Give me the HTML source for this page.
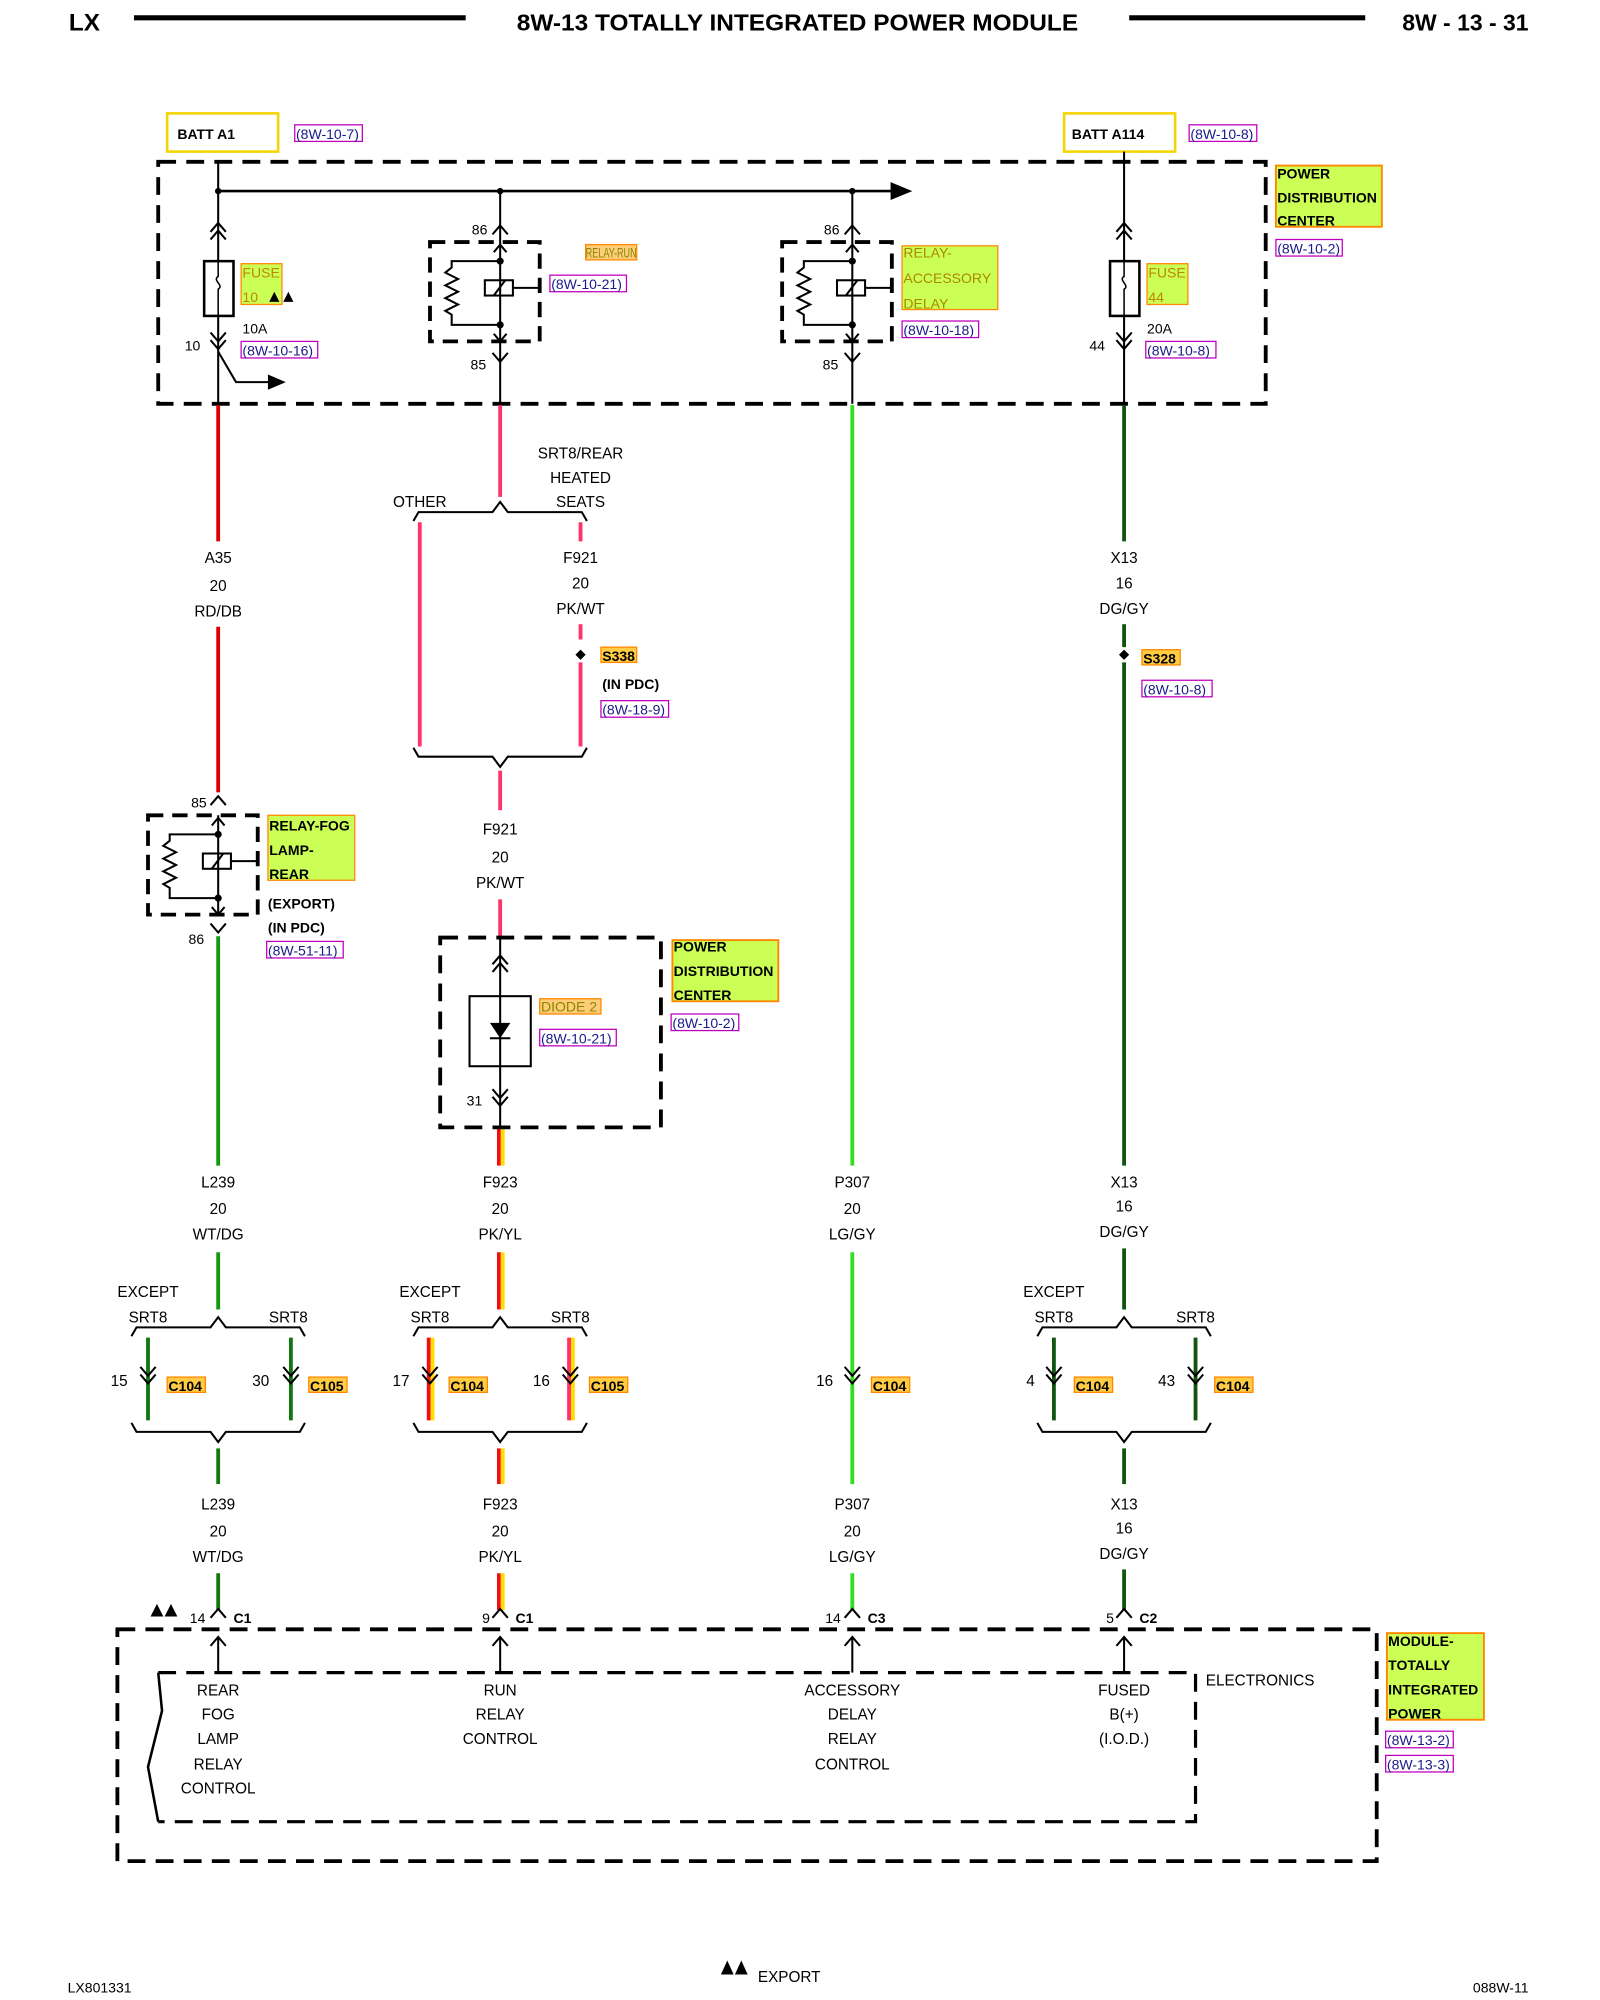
<!DOCTYPE html>
<html><head><meta charset="utf-8"><style>
html,body{margin:0;padding:0;background:#fff;}
svg{display:block;}
text{font-family:"Liberation Sans",Arial,sans-serif;font-size:12px;fill:#000;}
.b{font-weight:bold;}
.c{text-anchor:middle;}
.r{text-anchor:end;}
.ref{fill:#1a1a8c;font-size:11px;}
</style></head><body>
<svg width="1600" height="2000" viewBox="0 0 1254 1570" preserveAspectRatio="none" xmlns="http://www.w3.org/2000/svg">
<defs>
<g id="relay" fill="none" stroke="#000" stroke-width="1.6">
 <rect x="-55" y="0" width="86" height="78" stroke-width="3" stroke-dasharray="12,7"/>
 <line x1="0" y1="0" x2="0" y2="78"/>
 <path d="M-5,8 L0,2 L5,8 M-5,72 L0,78 L5,72"/>
 <path d="M0,15 H-38 V20 l-5,4 l10,5 l-10,5 l10,5 l-10,5 l10,5 l-10,5 l5,3 V65 H0"/>
 <rect x="-12" y="30" width="22" height="12"/>
 <line x1="-5" y1="42" x2="4" y2="30"/>
 <line x1="10" y1="36" x2="31" y2="36"/>
 <circle cx="0" cy="15" r="2" fill="#000"/><circle cx="0" cy="65" r="2" fill="#000"/>
</g>
<path id="up" d="M-6,7 L0,0 L6,7" fill="none" stroke="#000" stroke-width="1.6"/>
<path id="dn" d="M-6,-7 L0,0 L6,-7" fill="none" stroke="#000" stroke-width="1.6"/>
<path id="bt" d="M-68,9 L-64,2 H-6 L0,-6 L6,2 H64 L68,9" fill="none" stroke="#000" stroke-width="1.6"/>
<path id="bb" d="M-68,-9 L-64,-2 H-6 L0,6 L6,-2 H64 L68,-9" fill="none" stroke="#000" stroke-width="1.6"/>
</defs>

<!-- header -->
<text x="54" y="24" class="b" style="font-size:19px">LX</text>
<line x1="105" y1="14" x2="365" y2="14" stroke="#000" stroke-width="4"/>
<text x="625" y="24" class="b c" style="font-size:18px" textLength="440" lengthAdjust="spacingAndGlyphs">8W-13 TOTALLY INTEGRATED POWER MODULE</text>
<line x1="885" y1="14" x2="1070" y2="14" stroke="#000" stroke-width="4"/>
<text x="1198" y="24" class="b r" style="font-size:18px">8W - 13 - 31</text>

<!-- BATT boxes -->
<rect x="131" y="89" width="87" height="30" fill="#fff" stroke="#f5d400" stroke-width="2"/>
<text x="139" y="109" class="b" style="font-size:11px">BATT A1</text>
<rect x="231" y="98" width="53" height="13" fill="none" stroke="#c000c0"/>
<text x="232" y="109" class="ref">(8W-10-7)</text>
<rect x="834" y="89" width="87" height="30" fill="#fff" stroke="#f5d400" stroke-width="2"/>
<text x="840" y="109" class="b" style="font-size:11px">BATT A114</text>
<rect x="932" y="98" width="53" height="13" fill="none" stroke="#c000c0"/>
<text x="933" y="109" class="ref">(8W-10-8)</text>

<!-- PDC box -->
<rect x="124" y="127" width="868" height="190" fill="none" stroke="#000" stroke-width="3" stroke-dasharray="14,8"/>
<rect x="1000" y="130" width="83" height="48" fill="#ccff55" stroke="#ff8800" stroke-width="1.5"/>
<text x="1001" y="140" class="b" style="font-size:11px">POWER</text>
<text x="1001" y="159" class="b" style="font-size:11px">DISTRIBUTION</text>
<text x="1001" y="177" class="b" style="font-size:11px">CENTER</text>
<rect x="1000" y="188" width="52" height="13" fill="none" stroke="#c000c0"/>
<text x="1001" y="199" class="ref">(8W-10-2)</text>

<!-- bus -->
<line x1="171" y1="150" x2="702" y2="150" stroke="#000" stroke-width="2"/>
<path d="M698,143 L715,150 L698,157 Z" fill="#000"/>
<circle cx="171" cy="150" r="2.5"/><circle cx="392" cy="150" r="2.5"/><circle cx="668" cy="150" r="2.5"/>

<!-- fuse 10 -->
<line x1="171" y1="127" x2="171" y2="317" stroke="#000" stroke-width="1.6"/>
<use href="#up" x="171" y="175"/><use href="#up" x="171" y="181"/>
<rect x="160" y="205" width="23" height="43" fill="#fff" stroke="#000" stroke-width="2"/>
<path d="M171,205 v12 c-5,3 5,7 0,10 v21" fill="none" stroke="#000" stroke-width="1.2"/>
<rect x="189" y="207" width="32" height="32" fill="#ccff55" stroke="#ff8800"/>
<text x="190" y="218" style="font-size:11px;fill:#bb8800">FUSE</text>
<text x="190" y="237" style="font-size:11px;fill:#bb8800">10</text>
<path d="M211,237 l4,-8 l4,8 Z M222,237 l4,-8 l4,8 Z" fill="#000"/>
<text x="190" y="262" style="font-size:11px">10A</text>
<text x="157" y="275" class="r" style="font-size:11px">10</text>
<use href="#dn" x="171" y="268"/><use href="#dn" x="171" y="274"/>
<rect x="189" y="268" width="60" height="13" fill="none" stroke="#c000c0"/>
<text x="190" y="279" class="ref">(8W-10-16)</text>
<path d="M171,276 L185,300 H212" fill="none" stroke="#000" stroke-width="1.6"/>
<path d="M210,294 L224,300 L210,306 Z" fill="#000"/>

<!-- relay run -->
<line x1="392" y1="150" x2="392" y2="190" stroke="#000" stroke-width="1.6"/>
<text x="382" y="184" class="r" style="font-size:11px">86</text>
<use href="#up" x="392" y="177"/>
<use href="#relay" x="392" y="190"/>
<rect x="459" y="192" width="40" height="12" fill="#ffcc77" stroke="#ff8800"/>
<text x="459" y="202" style="font-size:11px;fill:#888800" textLength="40" lengthAdjust="spacingAndGlyphs">RELAY-RUN</text>
<rect x="431" y="216" width="60" height="13" fill="none" stroke="#c000c0"/>
<text x="432" y="227" class="ref">(8W-10-21)</text>
<text x="381" y="290" class="r" style="font-size:11px">85</text>
<use href="#dn" x="392" y="284"/>
<line x1="392" y1="268" x2="392" y2="317" stroke="#000" stroke-width="1.6"/>

<!-- relay accessory -->
<line x1="668" y1="150" x2="668" y2="190" stroke="#000" stroke-width="1.6"/>
<text x="658" y="184" class="r" style="font-size:11px">86</text>
<use href="#up" x="668" y="177"/>
<use href="#relay" x="668" y="190"/>
<rect x="707" y="193" width="75" height="50" fill="#ccff55" stroke="#ff8800"/>
<text x="708" y="202" style="font-size:11px;fill:#aa8800">RELAY-</text>
<text x="708" y="222" style="font-size:11px;fill:#aa8800">ACCESSORY</text>
<text x="708" y="242" style="font-size:11px;fill:#aa8800">DELAY</text>
<rect x="707" y="252" width="60" height="13" fill="none" stroke="#c000c0"/>
<text x="708" y="263" class="ref">(8W-10-18)</text>
<text x="657" y="290" class="r" style="font-size:11px">85</text>
<use href="#dn" x="668" y="284"/>
<line x1="668" y1="268" x2="668" y2="317" stroke="#000" stroke-width="1.6"/>

<!-- fuse 44 -->
<line x1="881" y1="119" x2="881" y2="317" stroke="#000" stroke-width="1.6"/>
<use href="#up" x="881" y="175"/><use href="#up" x="881" y="181"/>
<rect x="870" y="205" width="23" height="43" fill="#fff" stroke="#000" stroke-width="2"/>
<path d="M881,205 v12 c-5,3 5,7 0,10 v21" fill="none" stroke="#000" stroke-width="1.2"/>
<rect x="899" y="207" width="32" height="32" fill="#ccff55" stroke="#ff8800"/>
<text x="900" y="218" style="font-size:11px;fill:#bb8800">FUSE</text>
<text x="900" y="237" style="font-size:11px;fill:#bb8800">44</text>
<text x="899" y="262" style="font-size:11px">20A</text>
<text x="866" y="275" class="r" style="font-size:11px">44</text>
<use href="#dn" x="881" y="268"/><use href="#dn" x="881" y="274"/>
<rect x="898" y="268" width="55" height="13" fill="none" stroke="#c000c0"/>
<text x="899" y="279" class="ref">(8W-10-8)</text>

<!-- ============ column 1 (171) ============ -->
<g stroke-width="3">
<line x1="171" y1="318" x2="171" y2="425" stroke="#dd0000"/>
<line x1="171" y1="492" x2="171" y2="622" stroke="#dd0000"/>
<line x1="171" y1="735" x2="171" y2="915" stroke="#119911"/>
<line x1="171" y1="983" x2="171" y2="1028" stroke="#119911"/>
<line x1="116" y1="1050" x2="116" y2="1115" stroke="#117711"/>
<line x1="228" y1="1050" x2="228" y2="1115" stroke="#117711"/>
<line x1="171" y1="1137" x2="171" y2="1165" stroke="#117711"/>
<line x1="171" y1="1235" x2="171" y2="1264" stroke="#117711"/>
</g>
<text x="171" y="442" class="c">A35</text><text x="171" y="464" class="c">20</text><text x="171" y="484" class="c">RD/DB</text>
<text x="162" y="634" class="r" style="font-size:11px">85</text>
<use href="#up" x="171" y="625"/>
<use href="#relay" x="171" y="640"/>
<rect x="210" y="640" width="68" height="51" fill="#ccff55" stroke="#ff8800"/>
<text x="211" y="652" class="b" style="font-size:11px">RELAY-FOG</text>
<text x="211" y="671" class="b" style="font-size:11px">LAMP-</text>
<text x="211" y="690" class="b" style="font-size:11px">REAR</text>
<text x="210" y="713" class="b" style="font-size:11px">(EXPORT)</text>
<text x="210" y="732" class="b" style="font-size:11px">(IN PDC)</text>
<rect x="209" y="739" width="60" height="13" fill="none" stroke="#c000c0"/>
<text x="210" y="750" class="ref">(8W-51-11)</text>
<text x="160" y="741" class="r" style="font-size:11px">86</text>
<use href="#dn" x="171" y="732"/>
<text x="171" y="932" class="c">L239</text><text x="171" y="953" class="c">20</text><text x="171" y="973" class="c">WT/DG</text>
<text x="92" y="1018">EXCEPT</text>
<text x="116" y="1038" class="c">SRT8</text><text x="226" y="1038" class="c">SRT8</text>
<use href="#bt" x="171" y="1040"/>
<use href="#dn" x="116" y="1080"/><use href="#dn" x="116" y="1086"/>
<use href="#dn" x="228" y="1080"/><use href="#dn" x="228" y="1086"/>
<text x="100" y="1088" class="r">15</text><text x="211" y="1088" class="r">30</text>
<rect x="131" y="1081" width="30" height="12" fill="#ffcc44" stroke="#ff8800"/><text x="132" y="1092" class="b" style="font-size:11px">C104</text>
<rect x="242" y="1081" width="30" height="12" fill="#ffcc44" stroke="#ff8800"/><text x="243" y="1092" class="b" style="font-size:11px">C105</text>
<use href="#bb" x="171" y="1126"/>
<text x="171" y="1185" class="c">L239</text><text x="171" y="1206" class="c">20</text><text x="171" y="1226" class="c">WT/DG</text>

<!-- ============ column 2 (392) ============ -->
<g stroke-width="3" stroke="#ff3366">
<line x1="392" y1="318" x2="392" y2="390"/>
<line x1="329" y1="410" x2="329" y2="586"/>
<line x1="455" y1="410" x2="455" y2="425"/>
<line x1="455" y1="490" x2="455" y2="502"/>
<line x1="455" y1="520" x2="455" y2="586"/>
<line x1="392" y1="605" x2="392" y2="636"/>
<line x1="392" y1="706" x2="392" y2="736"/>
</g>
<g stroke-width="3">
<line x1="391" y1="885" x2="391" y2="915" stroke="#ee1111"/><line x1="394" y1="885" x2="394" y2="915" stroke="#ffdd00"/>
<line x1="391" y1="983" x2="391" y2="1028" stroke="#ee1111"/><line x1="394" y1="983" x2="394" y2="1028" stroke="#ffdd00"/>
<line x1="336" y1="1050" x2="336" y2="1115" stroke="#ee1111"/><line x1="339" y1="1050" x2="339" y2="1115" stroke="#ffdd00"/>
<line x1="446" y1="1050" x2="446" y2="1115" stroke="#ff3366"/><line x1="449" y1="1050" x2="449" y2="1115" stroke="#ffdd00"/>
<line x1="391" y1="1137" x2="391" y2="1165" stroke="#ee1111"/><line x1="394" y1="1137" x2="394" y2="1165" stroke="#ffdd00"/>
<line x1="391" y1="1235" x2="391" y2="1264" stroke="#ee1111"/><line x1="394" y1="1235" x2="394" y2="1264" stroke="#ffdd00"/>
</g>
<text x="455" y="360" class="c">SRT8/REAR</text><text x="455" y="379" class="c">HEATED</text><text x="455" y="398" class="c">SEATS</text>
<text x="329" y="398" class="c">OTHER</text>
<use href="#bt" x="392" y="400"/>
<text x="455" y="442" class="c">F921</text><text x="455" y="462" class="c">20</text><text x="455" y="482" class="c">PK/WT</text>
<path d="M455,510 l4,4 l-4,4 l-4,-4 Z" fill="#000"/>
<rect x="471" y="508" width="28" height="12" fill="#ffcc44" stroke="#ff8800"/><text x="472" y="519" class="b" style="font-size:11px">S338</text>
<text x="472" y="541" class="b" style="font-size:11px">(IN PDC)</text>
<rect x="471" y="550" width="53" height="13" fill="none" stroke="#c000c0"/><text x="472" y="561" class="ref">(8W-18-9)</text>
<use href="#bb" x="392" y="596"/>
<text x="392" y="655" class="c">F921</text><text x="392" y="677" class="c">20</text><text x="392" y="697" class="c">PK/WT</text>
<!-- diode box -->
<rect x="345" y="736" width="173" height="149" fill="none" stroke="#000" stroke-width="3" stroke-dasharray="14,8"/>
<line x1="392" y1="736" x2="392" y2="885" stroke="#000" stroke-width="1.6"/>
<use href="#up" x="392" y="750"/><use href="#up" x="392" y="756"/>
<rect x="368" y="782" width="48" height="55" fill="#fff" stroke="#000" stroke-width="1.6"/>
<line x1="392" y1="782" x2="392" y2="837" stroke="#000" stroke-width="1.6"/>
<path d="M384,803 H400 L392,815 Z" fill="#000"/><line x1="384" y1="815" x2="400" y2="815" stroke="#000" stroke-width="1.6"/>
<rect x="423" y="784" width="48" height="12" fill="#ffcc77" stroke="#ff8800"/><text x="424" y="794" style="font-size:11px;fill:#888800">DIODE 2</text>
<rect x="423" y="808" width="60" height="13" fill="none" stroke="#c000c0"/><text x="424" y="819" class="ref">(8W-10-21)</text>
<text x="378" y="868" class="r" style="font-size:11px">31</text>
<use href="#dn" x="392" y="862"/><use href="#dn" x="392" y="868"/>
<rect x="527" y="738" width="83" height="48" fill="#ccff55" stroke="#ff8800" stroke-width="1.5"/>
<text x="528" y="747" class="b" style="font-size:11px">POWER</text>
<text x="528" y="766" class="b" style="font-size:11px">DISTRIBUTION</text>
<text x="528" y="785" class="b" style="font-size:11px">CENTER</text>
<rect x="526" y="796" width="53" height="13" fill="none" stroke="#c000c0"/><text x="527" y="807" class="ref">(8W-10-2)</text>
<text x="392" y="932" class="c">F923</text><text x="392" y="953" class="c">20</text><text x="392" y="973" class="c">PK/YL</text>
<text x="313" y="1018">EXCEPT</text>
<text x="337" y="1038" class="c">SRT8</text><text x="447" y="1038" class="c">SRT8</text>
<use href="#bt" x="392" y="1040"/>
<use href="#dn" x="337" y="1080"/><use href="#dn" x="337" y="1086"/>
<use href="#dn" x="447" y="1080"/><use href="#dn" x="447" y="1086"/>
<text x="321" y="1088" class="r">17</text><text x="431" y="1088" class="r">16</text>
<rect x="352" y="1081" width="30" height="12" fill="#ffcc44" stroke="#ff8800"/><text x="353" y="1092" class="b" style="font-size:11px">C104</text>
<rect x="462" y="1081" width="30" height="12" fill="#ffcc44" stroke="#ff8800"/><text x="463" y="1092" class="b" style="font-size:11px">C105</text>
<use href="#bb" x="392" y="1126"/>
<text x="392" y="1185" class="c">F923</text><text x="392" y="1206" class="c">20</text><text x="392" y="1226" class="c">PK/YL</text>

<!-- ============ column 3 (668) ============ -->
<g stroke-width="3" stroke="#33dd22">
<line x1="668" y1="318" x2="668" y2="915"/>
<line x1="668" y1="983" x2="668" y2="1165"/>
<line x1="668" y1="1235" x2="668" y2="1264"/>
</g>
<use href="#dn" x="668" y="1080"/><use href="#dn" x="668" y="1086"/>
<text x="653" y="1088" class="r">16</text>
<rect x="683" y="1081" width="30" height="12" fill="#ffcc44" stroke="#ff8800"/><text x="684" y="1092" class="b" style="font-size:11px">C104</text>
<text x="668" y="932" class="c">P307</text><text x="668" y="953" class="c">20</text><text x="668" y="973" class="c">LG/GY</text>
<text x="668" y="1185" class="c">P307</text><text x="668" y="1206" class="c">20</text><text x="668" y="1226" class="c">LG/GY</text>

<!-- ============ column 4 (881) ============ -->
<g stroke-width="3" stroke="#115511">
<line x1="881" y1="318" x2="881" y2="425"/>
<line x1="881" y1="490" x2="881" y2="508"/>
<line x1="881" y1="520" x2="881" y2="915"/>
<line x1="881" y1="980" x2="881" y2="1028"/>
<line x1="826" y1="1050" x2="826" y2="1115"/>
<line x1="937" y1="1050" x2="937" y2="1115"/>
<line x1="881" y1="1137" x2="881" y2="1165"/>
<line x1="881" y1="1232" x2="881" y2="1264"/>
</g>
<text x="881" y="442" class="c">X13</text><text x="881" y="462" class="c">16</text><text x="881" y="482" class="c">DG/GY</text>
<path d="M881,510 l4,4 l-4,4 l-4,-4 Z" fill="#000"/>
<rect x="895" y="510" width="30" height="12" fill="#ffcc44" stroke="#ff8800"/><text x="896" y="521" class="b" style="font-size:11px">S328</text>
<rect x="895" y="534" width="55" height="13" fill="none" stroke="#c000c0"/><text x="896" y="545" class="ref">(8W-10-8)</text>
<text x="881" y="932" class="c">X13</text><text x="881" y="951" class="c">16</text><text x="881" y="971" class="c">DG/GY</text>
<text x="802" y="1018">EXCEPT</text>
<text x="826" y="1038" class="c">SRT8</text><text x="937" y="1038" class="c">SRT8</text>
<use href="#bt" x="881" y="1040"/>
<use href="#dn" x="826" y="1080"/><use href="#dn" x="826" y="1086"/>
<use href="#dn" x="937" y="1080"/><use href="#dn" x="937" y="1086"/>
<text x="811" y="1088" class="r">4</text><text x="921" y="1088" class="r">43</text>
<rect x="842" y="1081" width="30" height="12" fill="#ffcc44" stroke="#ff8800"/><text x="843" y="1092" class="b" style="font-size:11px">C104</text>
<rect x="952" y="1081" width="30" height="12" fill="#ffcc44" stroke="#ff8800"/><text x="953" y="1092" class="b" style="font-size:11px">C104</text>
<use href="#bb" x="881" y="1126"/>
<text x="881" y="1185" class="c">X13</text><text x="881" y="1204" class="c">16</text><text x="881" y="1224" class="c">DG/GY</text>

<!-- connectors at module -->
<path d="M118,1269 l5,-10 l5,10 Z M129,1269 l5,-10 l5,10 Z" fill="#000"/>
<use href="#up" x="171" y="1263"/><text x="161" y="1274" class="r" style="font-size:11px">14</text><text x="183" y="1274" class="b" style="font-size:11px">C1</text>
<use href="#up" x="392" y="1263"/><text x="384" y="1274" class="r" style="font-size:11px">9</text><text x="404" y="1274" class="b" style="font-size:11px">C1</text>
<use href="#up" x="668" y="1263"/><text x="659" y="1274" class="r" style="font-size:11px">14</text><text x="680" y="1274" class="b" style="font-size:11px">C3</text>
<use href="#up" x="881" y="1263"/><text x="873" y="1274" class="r" style="font-size:11px">5</text><text x="893" y="1274" class="b" style="font-size:11px">C2</text>

<!-- module box -->
<rect x="92" y="1279" width="987" height="182" fill="none" stroke="#000" stroke-width="3" stroke-dasharray="14,8"/>
<path d="M124,1313 H937 V1430 H124" fill="none" stroke="#000" stroke-width="2.5" stroke-dasharray="14,8"/>
<path d="M124,1313 L127,1343 L116,1387 L124,1430" fill="none" stroke="#000" stroke-width="2"/>
<g stroke="#000" stroke-width="1.6" fill="none">
<line x1="171" y1="1285" x2="171" y2="1313"/><use href="#up" x="171" y="1285"/>
<line x1="392" y1="1285" x2="392" y2="1313"/><use href="#up" x="392" y="1285"/>
<line x1="668" y1="1285" x2="668" y2="1313"/><use href="#up" x="668" y="1285"/>
<line x1="881" y1="1285" x2="881" y2="1313"/><use href="#up" x="881" y="1285"/>
</g>
<text x="171" y="1331" class="c">REAR</text><text x="171" y="1350" class="c">FOG</text><text x="171" y="1369" class="c">LAMP</text><text x="171" y="1389" class="c">RELAY</text><text x="171" y="1408" class="c">CONTROL</text>
<text x="392" y="1331" class="c">RUN</text><text x="392" y="1350" class="c">RELAY</text><text x="392" y="1369" class="c">CONTROL</text>
<text x="668" y="1331" class="c">ACCESSORY</text><text x="668" y="1350" class="c">DELAY</text><text x="668" y="1369" class="c">RELAY</text><text x="668" y="1389" class="c">CONTROL</text>
<text x="881" y="1331" class="c">FUSED</text><text x="881" y="1350" class="c">B(+)</text><text x="881" y="1369" class="c">(I.O.D.)</text>
<text x="945" y="1323">ELECTRONICS</text>
<rect x="1087" y="1282" width="76" height="68" fill="#ccff55" stroke="#ff8800" stroke-width="1.5"/>
<text x="1088" y="1292" class="b" style="font-size:11px">MODULE-</text>
<text x="1088" y="1311" class="b" style="font-size:11px">TOTALLY</text>
<text x="1088" y="1330" class="b" style="font-size:11px">INTEGRATED</text>
<text x="1088" y="1349" class="b" style="font-size:11px">POWER</text>
<rect x="1086" y="1359" width="53" height="13" fill="none" stroke="#c000c0"/><text x="1087" y="1370" class="ref">(8W-13-2)</text>
<rect x="1086" y="1378" width="53" height="13" fill="none" stroke="#c000c0"/><text x="1087" y="1389" class="ref">(8W-13-3)</text>

<!-- footer -->
<text x="53" y="1564" style="font-size:11px">LX801331</text>
<path d="M565,1550 l5,-11 l5,11 Z M576,1550 l5,-11 l5,11 Z" fill="#000"/>
<text x="594" y="1556">EXPORT</text>
<text x="1198" y="1564" class="r" style="font-size:11px">088W-11</text>
</svg>
</body></html>
